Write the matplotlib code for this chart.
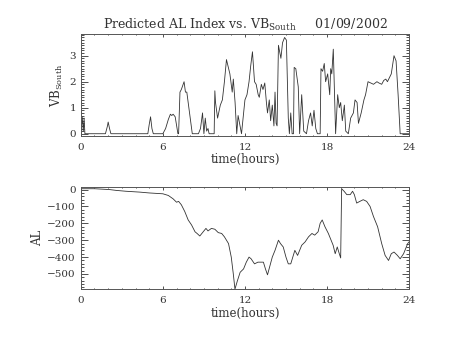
import numpy as np
import matplotlib.pyplot as plt
from matplotlib.ticker import MultipleLocator

# VB south (hours, value)
vb_t = [0.0, 0.1, 0.18, 0.24, 0.3, 0.38, 1.8, 1.95, 2.0, 2.1, 2.2, 4.9, 5.0, 5.1, 5.2, 5.3,
        6.0, 6.2, 6.4, 6.55, 6.65, 6.75, 6.9, 7.1, 7.15, 7.25, 7.35, 7.45, 7.55, 7.65, 7.75, 7.95, 8.15,
        8.6, 8.75, 8.9, 9.0, 9.1, 9.2, 9.3, 9.38, 9.45, 9.75,
        9.8, 9.85, 10.0, 10.2, 10.35, 10.5, 10.65, 10.9, 11.07, 11.15, 11.28, 11.4, 11.5, 11.75,
        12.0, 12.15, 12.3, 12.42, 12.55, 12.7, 12.82, 12.97, 13.05, 13.2, 13.32, 13.45, 13.57,
        13.65, 13.78, 13.88, 14.0, 14.12, 14.2, 14.28, 14.35, 14.45, 14.63, 14.75, 14.9, 15.03,
        15.17, 15.25, 15.35, 15.45, 15.55, 15.6, 15.72, 15.9, 16.0, 16.15, 16.3, 16.5, 16.65,
        16.8, 16.92, 17.05, 17.18, 17.3, 17.5, 17.56, 17.68, 17.8, 17.9, 18.05, 18.2, 18.27,
        18.35, 18.46, 18.63, 18.78, 18.9, 19.0, 19.12, 19.27, 19.37, 19.56, 19.73, 19.93,
        20.05, 20.2, 20.3, 20.5, 20.7, 20.82, 21.0, 21.2, 21.4, 21.65, 21.8, 22.0, 22.15,
        22.3, 22.42, 22.7, 22.9, 23.05, 23.2, 23.35, 24.0]
vb = [0.0, 0.65, 0.1, 0.6, 0.0, 0.0, 0.0, 0.3, 0.45, 0.2, 0.0, 0.0, 0.35, 0.65, 0.2, 0.0,
      0.0, 0.2, 0.55, 0.75, 0.7, 0.75, 0.65, 0.0, 0.0, 1.6, 1.7, 1.85, 2.0, 1.6, 1.6, 0.8, 0.0,
      0.0, 0.2, 0.8, 0.0, 0.6, 0.1, 0.2, 0.0, 0.0, 0.0,
      1.65, 1.2, 0.6, 1.1, 1.3, 2.0, 2.85, 2.3, 1.6, 2.1, 1.2, 0.0, 0.7, 0.0,
      1.3, 1.5, 2.0, 2.6, 3.15, 2.0, 1.9, 1.5, 1.4, 1.9, 1.7, 1.95, 1.2,
      0.8, 1.3, 0.5, 1.1, 0.3, 1.6, 0.4, 0.3, 3.4, 2.9, 3.5, 3.7, 3.6,
      0.6, 0.0, 0.8, 0.0, 0.0, 2.55, 2.5, 1.8, 0.0, 1.5, 0.1, 0.0, 0.5,
      0.8, 0.3, 0.9, 0.2, 0.0, 0.0, 2.5, 2.4, 2.7, 2.0, 2.3, 1.5, 2.5,
      2.3, 3.25, 0.0, 1.5, 1.0, 1.2, 0.5, 1.1, 0.1, 0.0, 0.6, 0.8,
      1.3, 1.2, 0.4, 0.8, 1.3, 1.5, 2.0, 1.95, 1.9, 2.0, 1.95, 1.9, 2.05,
      2.1, 2.0, 2.3, 3.0, 2.8, 1.5, 0.0, 0.0]

# predicted AL (hours, nT)
al_t = [0.0, 1.0, 2.1, 2.6, 3.3, 4.3, 5.0, 6.0, 6.4, 6.75, 7.0, 7.15, 7.35, 7.6, 7.85, 8.1,
        8.35, 8.5, 8.7, 8.95, 9.15, 9.3, 9.55, 9.8, 10.05, 10.3, 10.5, 10.8, 11.0, 11.15,
        11.27, 11.45, 11.65, 11.9, 12.1, 12.3, 12.45, 12.7, 12.95, 13.35, 13.5, 13.65, 13.8,
        14.0, 14.2, 14.45, 14.6, 14.8, 15.0, 15.17, 15.35, 15.5, 15.65, 15.85, 16.15, 16.4,
        16.65, 16.9, 17.1, 17.35, 17.5, 17.65, 17.85, 18.1, 18.3, 18.45, 18.6, 18.75, 18.9,
        19.0, 19.07, 19.25, 19.45, 19.7, 19.87, 20.0, 20.17, 20.4, 20.65, 20.9, 21.15, 21.4,
        21.7, 22.0, 22.25, 22.5, 22.7, 22.9, 23.15, 23.35, 23.6, 23.9, 24.0]
al = [5, 5, 0, -5, -10, -15, -20, -25, -35, -55, -75, -70, -90, -130, -180, -210,
      -250, -260, -275, -250, -230, -245, -230, -235, -255, -260, -280, -320, -400, -500,
      -590, -540, -490, -470, -430, -400, -410, -440, -430, -430, -470, -505, -460,
      -400, -360, -300, -320, -340, -400, -440, -440, -400, -360, -390, -330, -310,
      -280, -260, -270, -250, -200, -180, -220, -260, -300, -330, -380, -340, -380,
      -405, 5, -10, -30, -30, -10, -30, -80, -70, -60, -70, -100, -160,
      -220, -320, -390, -420, -380, -370, -390, -410, -380, -320, -310]

plt.rcParams['font.family'] = ['DejaVu Serif']
plt.rcParams['mathtext.fontset'] = 'dejavuserif'

fig = plt.figure(figsize=(4.54, 3.41), dpi=100)
ax1 = fig.add_axes([0.178, 0.601, 0.723, 0.299])
ax2 = fig.add_axes([0.178, 0.152, 0.723, 0.300])

fc = '#333333'
for ax in (ax1, ax2):
    ax.set_xlim(0, 24)
    ax.xaxis.set_major_locator(MultipleLocator(6))
    ax.xaxis.set_minor_locator(MultipleLocator(1))
    ax.tick_params(which='both', direction='in', top=True, right=True,
                   labelsize=7.5, colors=fc, width=0.6)
    ax.tick_params(axis='x', which='major', length=2.0, pad=5)
    ax.tick_params(axis='x', which='minor', length=1.0)
    ax.tick_params(axis='y', which='major', length=4.8)
    ax.tick_params(axis='y', which='minor', length=2.4)
    for s in ax.spines.values():
        s.set_linewidth(0.7)
        s.set_color('#555555')
    ax.set_xlabel('time(hours)', fontsize=8.5, labelpad=1, color=fc)

ax1.plot(vb_t, vb, color='#333333', lw=0.6)
ax1.set_ylim(-0.09, 3.83)
ax1.yaxis.set_major_locator(MultipleLocator(1))
ax1.yaxis.set_minor_locator(MultipleLocator(0.1))
ax1.set_ylabel(r'VB$_{\mathrm{South}}$', fontsize=8.5, color=fc, labelpad=3)
ax1.set_title(r'Predicted AL Index vs. VB$_{\mathrm{South}}$     01/09/2002',
              fontsize=9, color=fc, pad=4)

ax2.plot(al_t, al, color='#333333', lw=0.6)
ax2.set_ylim(-590, 16)
ax2.yaxis.set_major_locator(MultipleLocator(100))
ax2.yaxis.set_minor_locator(MultipleLocator(20))
ax2.set_ylabel('AL', fontsize=8.5, color=fc, labelpad=2)

fig.savefig('out.png', dpi=100)
